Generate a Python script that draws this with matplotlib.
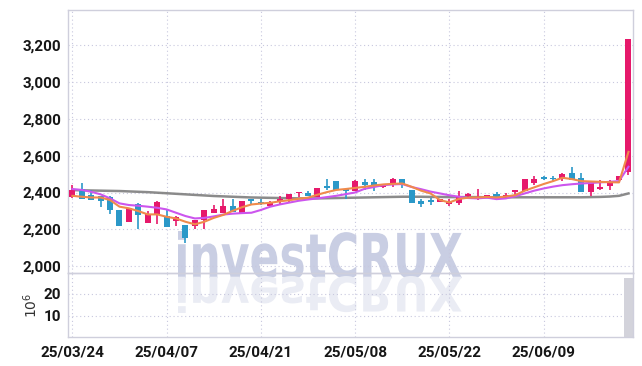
import matplotlib
matplotlib.use("Agg")
import matplotlib.pyplot as plt
from matplotlib.textpath import TextPath
from matplotlib.patches import PathPatch
from matplotlib.font_manager import FontProperties
from matplotlib.transforms import Affine2D
from matplotlib.ticker import FuncFormatter

# daily candles (KRW)
dates = ["25/03/24", "25/04/07", "25/04/21", "25/05/08", "25/05/22", "25/06/09"]
date_pos = [0, 10, 20, 30, 40, 50]

opens = [2374, 2419, 2389, 2379, 2376, 2307, 2238, 2338, 2233, 2284,
         2271, 2244, 2226, 2217, 2249, 2286, 2289, 2329, 2286, 2367,
         2346, 2325, 2356, 2365, 2398, 2398, 2376, 2434, 2464, 2421,
         2407, 2457, 2457, 2430, 2448, 2474, 2414, 2352, 2358, 2349,
         2338, 2344, 2379, 2367, 2371, 2392, 2371, 2403, 2407, 2452,
         2482, 2479, 2475, 2506, 2479, 2403, 2421, 2434, 2466, 2510]
highs = [2439, 2450, 2416, 2380, 2380, 2307, 2316, 2345, 2298, 2355,
         2307, 2271, 2226, 2253, 2307, 2331, 2365, 2365, 2356, 2367,
         2365, 2355, 2379, 2394, 2405, 2410, 2425, 2474, 2464, 2425,
         2470, 2475, 2475, 2448, 2479, 2474, 2414, 2365, 2371, 2362,
         2365, 2406, 2400, 2420, 2385, 2401, 2398, 2412, 2475, 2488,
         2488, 2488, 2506, 2537, 2506, 2457, 2466, 2470, 2492, 3234]
lows = [2371, 2363, 2358, 2320, 2284, 2217, 2238, 2204, 2233, 2230,
        2211, 2217, 2123, 2203, 2204, 2286, 2289, 2295, 2286, 2331,
        2331, 2320, 2336, 2351, 2376, 2383, 2376, 2412, 2416, 2365,
        2407, 2416, 2410, 2425, 2428, 2425, 2345, 2322, 2334, 2349,
        2329, 2334, 2370, 2361, 2371, 2371, 2367, 2385, 2407, 2443,
        2470, 2461, 2461, 2470, 2403, 2379, 2412, 2412, 2466, 2497]
closes = [2416, 2363, 2358, 2356, 2303, 2217, 2316, 2276, 2284, 2349,
          2211, 2266, 2154, 2253, 2307, 2313, 2329, 2295, 2356, 2356,
          2343, 2344, 2367, 2394, 2405, 2383, 2425, 2423, 2416, 2406,
          2461, 2439, 2434, 2448, 2474, 2447, 2345, 2340, 2349, 2362,
          2349, 2379, 2392, 2376, 2385, 2376, 2389, 2412, 2475, 2475,
          2472, 2474, 2501, 2470, 2403, 2457, 2430, 2457, 2492, 3234]

# volume in millions of shares
volume = [0.21, 0.18, 0.15, 0.17, 0.22, 0.26, 0.19, 0.2, 0.18, 0.21,
          0.24, 0.16, 0.28, 0.19, 0.2, 0.17, 0.18, 0.15, 0.19, 0.14,
          0.13, 0.15, 0.16, 0.18, 0.14, 0.13, 0.2, 0.22, 0.19, 0.16,
          0.21, 0.17, 0.15, 0.14, 0.18, 0.16, 0.23, 0.17, 0.15, 0.13,
          0.14, 0.19, 0.16, 0.15, 0.13, 0.14, 0.15, 0.16, 0.27, 0.2,
          0.17, 0.15, 0.19, 0.22, 0.25, 0.21, 0.16, 0.17, 0.2, 27.3]

# moving averages
ma_short = [2382, 2377, 2373, 2373, 2359, 2323, 2314, 2299, 2281, 2281,
            2268, 2259, 2241, 2227, 2241, 2262, 2278, 2300, 2320, 2335,
            2340, 2344, 2352, 2358, 2366, 2372, 2388, 2402, 2414, 2419,
            2425, 2431, 2438, 2444, 2447, 2449, 2431, 2410, 2395, 2359,
            2346, 2365, 2372, 2373, 2376, 2373, 2378, 2386, 2410, 2428,
            2446, 2462, 2480, 2473, 2462, 2460, 2458, 2456, 2455, 2621]
ma_mid = [2419, 2414, 2404, 2390, 2368, 2341, 2332, 2328, 2323, 2317,
          2308, 2290, 2272, 2259, 2262, 2270, 2280, 2285, 2288, 2290,
          2305, 2323, 2335, 2345, 2355, 2362, 2368, 2375, 2382, 2391,
          2400, 2420, 2430, 2440, 2444, 2446, 2430, 2418, 2405, 2395,
          2385, 2377, 2370, 2368, 2372, 2364, 2368, 2380, 2395, 2410,
          2422, 2432, 2440, 2445, 2449, 2452, 2455, 2458, 2462, 2540]
ma_long = [2413, 2412, 2411, 2410, 2409, 2408, 2406, 2404, 2402, 2399,
           2396, 2393, 2390, 2387, 2384, 2381, 2379, 2377, 2375, 2373,
           2372, 2371, 2370, 2369, 2368, 2368, 2368, 2369, 2370, 2371,
           2372, 2373, 2374, 2375, 2376, 2377, 2377, 2377, 2376, 2376,
           2375, 2375, 2375, 2375, 2374, 2374, 2374, 2374, 2374, 2374,
           2374, 2374, 2374, 2374, 2374, 2375, 2376, 2378, 2382, 2395]

UP = "#e6196b"
DOWN = "#2b98c8"
GRID = "#c8c8de"
SPINE = "#cfcfdc"
tick_font = FontProperties(family="Roboto", weight="bold", size=11)

W, H = 642, 366
fig = plt.figure(figsize=(W / 100, H / 100), dpi=100)
fig.patch.set_facecolor("white")

# watermark + its reflection, drawn in figure pixels
wm = TextPath((0, 0), "investCRUX", size=50,
              prop=FontProperties(family="DejaVu Sans", weight="bold"))
bb = wm.get_extents()
to_fig = Affine2D().scale(1 / W, 1 / H) + fig.transFigure


def place(x0, x1, ytop, ybot, flip):
    sx = (x1 - x0) / bb.width
    sy = (ybot - ytop) / bb.height
    if flip:
        return Affine2D().translate(-bb.x0, -bb.y0).scale(sx, -sy).translate(x0, H - ytop)
    return Affine2D().translate(-bb.x0, -bb.y0).scale(sx, sy).translate(x0, H - ybot)


fig.add_artist(PathPatch(wm, transform=place(178, 462, 231, 279, False) + to_fig,
                         facecolor="#c9cee3", edgecolor="none", zorder=0))
fig.add_artist(PathPatch(wm, transform=place(178, 462, 276, 313, True) + to_fig,
                         facecolor="#eaecf4", edgecolor="none", zorder=0))

ax = fig.add_axes([68.3 / W, 1 - 272.7 / H, (632.7 - 68.3) / W, (272.7 - 9.5) / H])
axv = fig.add_axes([68.3 / W, 1 - 337.3 / H, (632.7 - 68.3) / W, (337.3 - 272.7) / H], sharex=ax)

for a in (ax, axv):
    a.set_facecolor("none")
    a.grid(True, linestyle=(0, (1, 2.5)), color=GRID, linewidth=0.8)
    a.set_axisbelow(True)
    for s in a.spines.values():
        s.set_color(SPINE)
        s.set_linewidth(1.0)
    a.tick_params(length=0, pad=5, labelcolor="#161616")

# candles
for i in range(len(opens)):
    o, h, l, c = opens[i], highs[i], lows[i], closes[i]
    col = UP if c >= o else DOWN
    ax.vlines(i, l, h, color=col, linewidth=1.2, zorder=3)
    ax.bar(i, abs(c - o) if c != o else 2, bottom=min(o, c), width=0.64,
           color=col, zorder=4)

x = list(range(len(opens)))
ax.plot(x, ma_long, color="#7f7f7f", linewidth=1.8, zorder=2, alpha=0.9)
ax.plot(x, ma_mid, color="#cc55ee", linewidth=1.5, zorder=5)
ax.plot(x, ma_short, color="#f08a4b", linewidth=1.5, zorder=5)

ax.set_xlim(-0.43, 59.45)
ax.set_ylim(1964, 3395)
ax.set_yticks([2000, 2200, 2400, 2600, 2800, 3000, 3200])
ax.yaxis.set_major_formatter(FuncFormatter(lambda v, p: f"{int(v):,}"))
for t in ax.get_yticklabels():
    t.set_fontproperties(tick_font)
ax.tick_params(axis="x", labelbottom=False)

axv.bar(x, volume, width=0.95, color="#d3d3db", zorder=2)
axv.set_ylim(0, 29.8)
axv.set_yticks([10, 20])
axv.set_xticks(date_pos)
axv.set_xticklabels(dates)
axv.tick_params(axis="x", pad=6)
for t in axv.get_yticklabels() + axv.get_xticklabels():
    t.set_fontproperties(tick_font)
axv.set_ylabel(r"$10^6$", fontsize=10, color="#333333", labelpad=3)

fig.savefig("out.png", dpi=100, facecolor="white")
